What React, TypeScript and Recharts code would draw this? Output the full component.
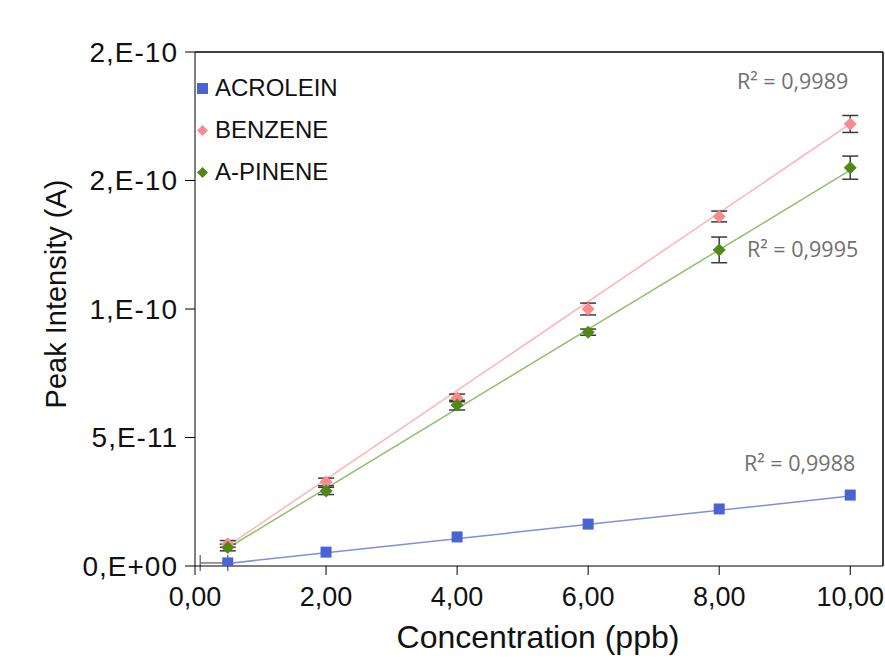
import {
  ComposedChart, Scatter, Line, XAxis, YAxis, ErrorBar, ReferenceLine, Label,
} from 'recharts'

const conc = [0.5, 2, 4, 6, 8, 10]
const acrolein = [1.2e-12, 5.4e-12, 1.13e-11, 1.63e-11, 2.22e-11, 2.76e-11]
const benzene = [8.6e-12, 3.27e-11, 6.54e-11, 1.0e-10, 1.36e-10, 1.72e-10]
const benzeneErr = [1.3e-12, 1.5e-12, 1.5e-12, 2.3e-12, 2.1e-12, 3.3e-12]
const pinene = [7.2e-12, 2.92e-11, 6.26e-11, 9.1e-11, 1.23e-10, 1.55e-10]
const pineneErr = [1.3e-12, 1.4e-12, 1.9e-12, 1.2e-12, 5.0e-12, 4.5e-12]
// the lone horizontal error bar on the first acrolein point
const acroleinErrX = [0.42, 0]

// trend line end points
const fitX = [0.5, 10]
const acroleinFit = [1.0e-12, 2.72e-11]
const benzeneFit = [7.8e-12, 1.72e-10]
const pineneFit = [7.0e-12, 1.54e-10]

const xTicks = [0, 2, 4, 6, 8, 10]
const yTicks = [0, 5e-11, 1e-10, 1.5e-10, 2e-10]
const yTickLabels = ['0,E+00', '5,E-11', '1,E-10', '2,E-10', '2,E-10']

const SERIES = [
  { name: 'ACROLEIN', color: '#4a63d3', line: '#7d8fe0', shape: 'square' },
  { name: 'BENZENE', color: '#fb8a8f', line: '#ffb3b5', shape: 'diamond' },
  { name: 'A-PINENE', color: '#4f8a17', line: '#8fc069', shape: 'diamond' },
]

const r2Labels = [
  { text: 'R² = 0,9989', left: 737, top: 66 },
  { text: 'R² = 0,9995', left: 747, top: 234 },
  { text: 'R² = 0,9988', left: 744, top: 448 },
]

const acroleinData = conc.map((x, i) => ({ x, y: acrolein[i] }))
const acroleinErrData = [{ x: conc[0], y: acrolein[0], ex: acroleinErrX }]
const benzeneData = conc.map((x, i) => ({ x, y: benzene[i], e: benzeneErr[i] }))
const pineneData = conc.map((x, i) => ({ x, y: pinene[i], e: pineneErr[i] }))
const fitData = (ys: number[]) => fitX.map((x, i) => ({ x, y: ys[i] }))

const FONT = '"Liberation Sans", Arial, sans-serif'

function Square(props: any) {
  const { cx, cy, fill } = props
  return <rect x={cx - 5.5} y={cy - 5.5} width={11} height={11} fill={fill} />
}

function Diamond(props: any) {
  const { cx, cy, fill } = props
  const r = 6.5
  return (
    <path
      d={`M${cx},${cy - r} L${cx + r},${cy} L${cx},${cy + r} L${cx - r},${cy} Z`}
      fill={fill}
    />
  )
}

const Nothing = () => <g />

function LegendBox() {
  return (
    <div style={{
      position: 'absolute', left: 195, top: 67,
      fontFamily: FONT, fontSize: 24, color: '#111',
    }}>
      {SERIES.map(s => (
        <div key={s.name} style={{ display: 'flex', alignItems: 'center', height: 42 }}>
          <svg width={15} height={15} style={{ marginRight: 5 }}>
            {s.shape === 'square'
              ? <rect x={2} y={2} width={11} height={11} fill={s.color} />
              : <path d="M7.5,2 L13,7.5 L7.5,13 L2,7.5 Z" fill={s.color} />}
          </svg>
          <span>{s.name}</span>
        </div>
      ))}
    </div>
  )
}

export default function App() {
  return (
    <div style={{ position: 'absolute', left: 0, top: 0, width: 885, height: 659, background: '#fff' }}>
      <ComposedChart
        width={885}
        height={659}
        margin={{ top: 52, right: 2, bottom: 0, left: 0 }}
      >
        <XAxis
          type="number"
          dataKey="x"
          domain={[0, 10.5]}
          ticks={xTicks}
          allowDataOverflow
          height={93}
          stroke="#000"
          tickSize={9}
          tickMargin={12}
          tick={{ fontSize: 27, fill: '#111', fontFamily: FONT }}
          tickFormatter={(v: number) => v.toFixed(2).replace('.', ',')}
        >
          <Label
            content={() => (
              <text x={538} y={648} textAnchor="middle" fontSize={32} fill="#111" fontFamily={FONT}>
                Concentration (ppb)
              </text>
            )}
          />
        </XAxis>
        <YAxis
          type="number"
          dataKey="y"
          domain={[0, 2e-10]}
          ticks={yTicks}
          allowDataOverflow
          width={195}
          stroke="#000"
          tickSize={10}
          tickMargin={7}
          tick={{ fontSize: 28, fill: '#111', fontFamily: FONT, letterSpacing: 1 }}
          tickFormatter={(v: number) => yTickLabels[yTicks.indexOf(v)] ?? ''}
        >
          <Label
            content={() => (
              <text
                x={56} y={294} transform="rotate(-90 56 294)"
                textAnchor="middle" dominantBaseline="central"
                fontSize={29} fill="#111" fontFamily={FONT}
              >
                Peak Intensity (A)
              </text>
            )}
          />
        </YAxis>
        <ReferenceLine y={2e-10} stroke="#000" strokeWidth={1.5} />
        <ReferenceLine x={10.5} stroke="#000" strokeWidth={1.5} />

        <Line data={fitData(acroleinFit)} dataKey="y" stroke={SERIES[0].line} strokeWidth={1.5} dot={false} isAnimationActive={false} legendType="none" />
        <Line data={fitData(benzeneFit)} dataKey="y" stroke={SERIES[1].line} strokeWidth={1.5} dot={false} isAnimationActive={false} legendType="none" />
        <Line data={fitData(pineneFit)} dataKey="y" stroke={SERIES[2].line} strokeWidth={1.5} dot={false} isAnimationActive={false} legendType="none" />

        <Scatter data={acroleinErrData} shape={Nothing} isAnimationActive={false} legendType="none">
          <ErrorBar dataKey="ex" direction="x" width={8} stroke="#777" strokeWidth={1.5} />
        </Scatter>
        <Scatter name="ACROLEIN" data={acroleinData} fill={SERIES[0].color} shape={Square} isAnimationActive={false} />
        <Scatter name="BENZENE" data={benzeneData} fill={SERIES[1].color} shape={Diamond} isAnimationActive={false}>
          <ErrorBar dataKey="e" direction="y" width={8} stroke="#3a3a3a" strokeWidth={1.5} />
        </Scatter>
        <Scatter name="A-PINENE" data={pineneData} fill={SERIES[2].color} shape={Diamond} isAnimationActive={false}>
          <ErrorBar dataKey="e" direction="y" width={8} stroke="#3a3a3a" strokeWidth={1.5} />
        </Scatter>
      </ComposedChart>
      <LegendBox />
      {r2Labels.map(r => (
        <div
          key={r.text}
          style={{
            position: 'absolute', left: r.left, top: r.top,
            fontFamily: '"Open Sans", sans-serif', fontSize: 21.5, color: '#707070',
            whiteSpace: 'nowrap',
          }}
        >
          {r.text}
        </div>
      ))}
    </div>
  )
}
